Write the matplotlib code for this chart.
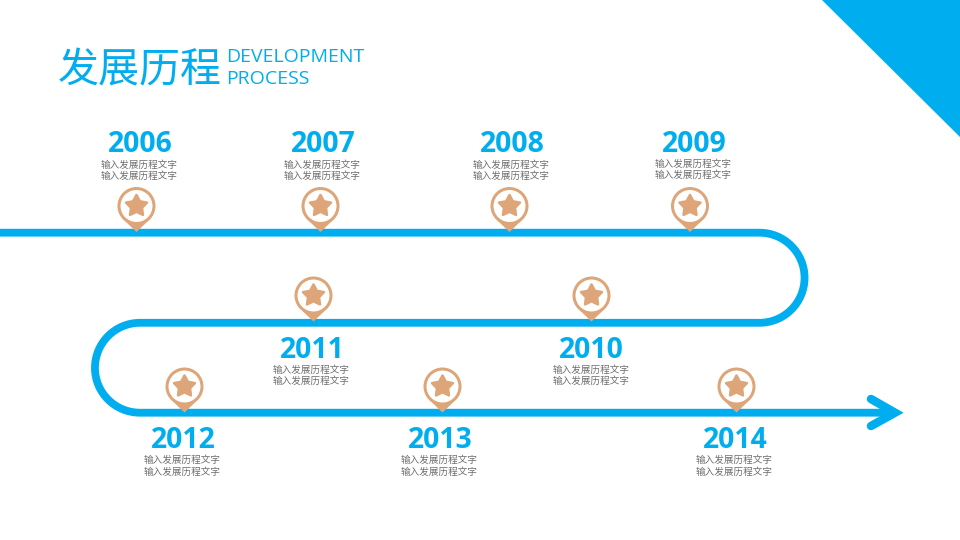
import numpy as np
import matplotlib
matplotlib.use("Agg")
import matplotlib.pyplot as plt
from matplotlib.patches import Polygon, PathPatch, Circle
from matplotlib.path import Path

plt.rcParams['font.family'] = ['Noto Sans CJK SC', 'DejaVu Sans']

TITLE = "发展历程"
SUBTITLE_LINES = ["DEVELOPMENT", "PROCESS"]
YEARS = ["2006", "2007", "2008", "2009", "2011", "2010", "2012", "2013", "2014"]
CAPTION = "输入发展历程文字"

PIN_X = [136.5, 320.5, 509.5, 690, 313.5, 591.5, 184.5, 442.5, 736.5]
PIN_Y = [206, 206, 206, 206, 295.5, 295.5, 386.5, 386.5, 386.5]
YEAR_X = [140, 323, 512, 694, 312, 591.5, 183, 440, 735]
YEAR_Y = [145, 145, 145, 144, 350, 350, 440, 440, 440]
CAP_Y1 = [165, 165, 165, 164, 370, 370, 460, 460, 460]
CAP_Y2 = [176, 176, 176, 175, 381, 381, 472, 472, 472]

BLUE = "#00AEEF"
PIN = "#DDA578"
GRAY = "#6E6E6E"

fig = plt.figure(figsize=(9.6, 5.4), dpi=100)
ax = fig.add_axes([0, 0, 1, 1])
ax.set_xlim(0, 960)
ax.set_ylim(540, 0)
ax.axis("off")
px = 0.72

# corner triangle
ax.add_patch(Polygon([(822, 0), (960, 0), (960, 137)], closed=True, fc=BLUE, ec="none"))

# serpentine path
k = 0.5523
xr, xl = 759.5, 140
y1, y2, y3 = 232.7, 322.8, 412.7
r = 45.05
verts = [(-5, y1), (xr, y1),
         (xr + k*r, y1), (xr + r, y1 + r - k*r), (xr + r, y1 + r),
         (xr + r, y1 + r + k*r), (xr + k*r, y2), (xr, y2),
         (xl, y2),
         (xl - k*r, y2), (xl - r, y2 + r - k*r), (xl - r, y2 + r),
         (xl - r, y2 + r + k*r), (xl - k*r, y3), (xl, y3),
         (893, y3)]
codes = [Path.MOVETO, Path.LINETO,
         Path.CURVE4, Path.CURVE4, Path.CURVE4,
         Path.CURVE4, Path.CURVE4, Path.CURVE4,
         Path.LINETO,
         Path.CURVE4, Path.CURVE4, Path.CURVE4,
         Path.CURVE4, Path.CURVE4, Path.CURVE4,
         Path.LINETO]
ax.add_patch(PathPatch(Path(verts, codes), fc="none", ec=BLUE, lw=7.8*px, capstyle="butt"))
ax.plot([871, 895, 871], [399, 412.7, 426], color=BLUE, lw=8.5*px,
        solid_capstyle="round", solid_joinstyle="miter")


def star_points(cx, cy, ro, ri):
    ang = -np.pi/2 + np.arange(10)*np.pi/5
    rad = np.where(np.arange(10) % 2 == 0, ro, ri)
    return np.column_stack([cx + rad*np.cos(ang), cy + rad*np.sin(ang)])


for x, y in zip(PIN_X, PIN_Y):
    ax.add_patch(Polygon([(x-11.5, y+15), (x+11.5, y+15), (x, y+26)], closed=True,
                         fc=PIN, ec="none", zorder=3))
    ax.add_patch(Circle((x, y), 17.5, fc="white", ec=PIN, lw=3*px, zorder=4))
    ax.add_patch(Polygon(star_points(x, y, 11, 5.8), closed=True, fc=PIN, ec=PIN,
                         lw=2.5*px, joinstyle="round", zorder=5))

for lab, x, y, c1, c2 in zip(YEARS, YEAR_X, YEAR_Y, CAP_Y1, CAP_Y2):
    ax.text(x, y, lab, color=BLUE, fontsize=20.4, fontweight="bold",
            ha="center", va="center", family=["Open Sans", "DejaVu Sans"])
    ax.text(x-0.5, c1, CAPTION, color=GRAY, fontsize=6.9, ha="center", va="center")
    ax.text(x-0.5, c2, CAPTION, color=GRAY, fontsize=6.9, ha="center", va="center")

ax.text(58, 71, TITLE, color=BLUE, fontsize=29.5, ha="left", va="center")
ax.text(226, 57, SUBTITLE_LINES[0], color=BLUE, fontsize=14, ha="left", va="center",
        family=["Open Sans", "DejaVu Sans"])
ax.text(226, 79, SUBTITLE_LINES[1], color=BLUE, fontsize=14, ha="left", va="center",
        family=["Open Sans", "DejaVu Sans"])

fig.savefig("out.png", dpi=100, facecolor="white")
